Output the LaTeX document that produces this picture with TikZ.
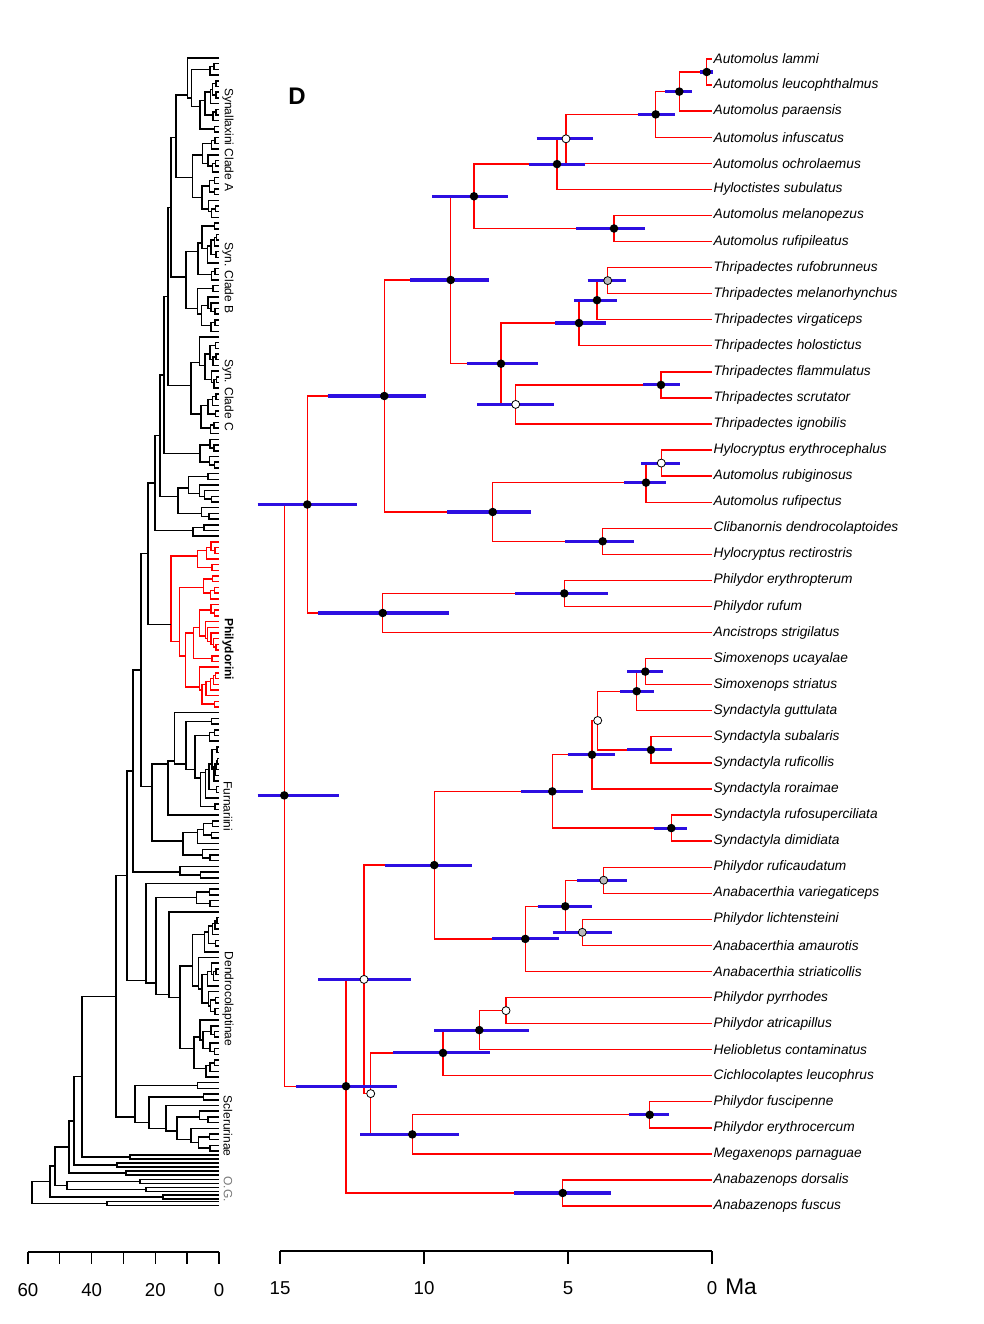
\documentclass[tikz,border=0pt]{standalone}
\usepackage{fontspec}
\setmainfont{Liberation Sans}
\usetikzlibrary{calc}

\definecolor{hpdblue}{RGB}{45,15,225}
\definecolor{oggray}{RGB}{120,120,120}

% random subtree of the big tree: #1 = x of root, #2..#3 = tips, #4 = style
\newcommand\subtree[4]{%
  \begingroup
  \pgfmathtruncatemacro\nt{#3-#2}%
  \ifnum\nt>0
    \pgfmathtruncatemacro\ks{#2+floor(rnd*\nt)}%
    \pgfmathtruncatemacro\kr{\ks+1}%
    \pgfmathsetmacro\ya{58+(#2+\ks-2)*2.8465}%
    \pgfmathsetmacro\yb{58+(\kr+#3-2)*2.8465}%
    \pgfmathsetmacro\xa{219-(219-#1)*ln(\ks-#2+1)/ln(\nt+1)*(0.75+0.2*rnd)}%
    \pgfmathsetmacro\xb{219-(219-#1)*ln(#3-\kr+1)/ln(\nt+1)*(0.75+0.2*rnd)}%
    \draw[#4] (\xa,\ya) -| (#1,\yb) -- (\xb,\yb);
    \edef\next{\noexpand\subtree{\xa}{#2}{\ks}{#4}}\next
    \edef\next{\noexpand\subtree{\xb}{\kr}{#3}{#4}}\next
  \fi
  \endgroup}
% clade of the big tree: name, x of root, first tip, last tip, style
\newcommand\clade[5]{%
  \coordinate (#1) at (#2,{58+(#3+#4-2)*2.8465});
  \subtree{#2}{#3}{#4}{#5}}

% internal nodes of the dated tree: number/x/y/bar from/bar to/dot style
\def\nodelist{1/706.7/72.0/700/713/blk, 2/679.3/91.6/665/692/blk,
  3/655.7/114.4/638/675/blk, 4/566/138.8/536.7/592.7/wht,
  5/557/164.1/529/585/blk, 6/614/228.5/576/645/blk,
  7/474/196.3/432/508/blk, 8/607.7/280.6/587.7/625.7/gry,
  9/597/300.2/574/617/blk, 10/579/323.0/555/605.7/blk,
  11/661/384.9/643/679.7/blk, 12/515.7/404.4/477/553.7/wht,
  13/501/363.7/466.7/537.7/blk, 14/450.7/280.0/410/489/blk,
  15/661.3/463.1/641/679.7/wht, 16/646/482.6/624/665.7/blk,
  17/602.7/541.3/565/634.3/blk, 18/492.7/512.0/447/531/blk,
  19/384.3/396.0/327.7/426.3/blk, 20/564.3/593.4/515.3/608.3/blk,
  21/382.7/613.0/318/449/blk, 22/307.3/504.5/257.7/356.7/blk,
  23/645.3/671.6/627.3/662.7/blk, 24/636.7/691.2/620/654.3/blk,
  25/651/749.9/627.3/672/blk, 26/597.7/720.5/597.7/597.7/wht,
  27/592/754.7/568.3/614.7/blk, 28/671.3/828.1/653.7/686.7/blk,
  29/552.3/791.4/520.7/583.3/blk, 30/603.7/880.2/577/627/gry,
  31/582.3/932.3/552.7/611.7/gry, 32/565.3/906.3/537.7/591.7/blk,
  33/525.3/938.9/492/559.3/blk, 34/434.3/865.1/384.7/472/blk,
  35/506/1010.6/506/506/wht, 36/479.3/1030.1/434.3/529/blk,
  37/443/1052.9/393/490/blk, 38/649.7/1114.8/628.7/669/blk,
  39/412.3/1134.4/360.3/459.3/blk, 40/370.7/1093.6/370.7/370.7/wht,
  41/364/979.4/318.3/410.7/wht, 42/562.7/1193.0/514.3/610.7/blk,
  43/346/1086.2/296.3/397/blk, 44/284.3/795.4/257.7/339/blk}

\begin{document}
\begin{tikzpicture}[x=0.75pt, y=-0.75pt,
  br/.style={red, line width=1pt},
  hpd/.style={hpdblue, line width=2.3pt},
  blk/.style={circle, fill=black, inner sep=0pt, minimum size=6.4pt},
  wht/.style={circle, draw=black, fill=white, line width=0.6pt, inner sep=0pt, minimum size=6pt},
  gry/.style={wht, fill=gray!55},
  lab/.style={anchor=west, inner sep=1pt, font=\fontsize{10.3}{12}\selectfont\itshape},
  ltree/.style={black, line width=1.1pt},
  lred/.style={red, line width=1.1pt},
  cladelab/.style={rotate=-90, inner sep=0pt, font=\fontsize{9}{10}\selectfont},
  ax/.style={black, line width=1pt},
  axlab/.style={inner sep=0pt, font=\fontsize{14}{16}\selectfont}]
\useasboundingbox (0,0) rectangle (984,1324);
\pgfmathsetseed{5}

% ---- whole family (left) ----
\clade{cA}{176}{1}{29}{ltree}
\clade{cB}{186}{30}{49}{ltree}
\clade{cC}{191}{50}{67}{ltree}
\clade{cD1}{200}{68}{73}{ltree}
\clade{cD2}{178}{74}{82}{ltree}
\clade{cD3}{193}{83}{85}{ltree}
\clade{cPh}{171}{86}{115}{lred}
\clade{cFu}{152}{116}{142}{ltree}
\clade{cSm}{180}{143}{145}{ltree}
\clade{cDe}{146}{146}{180}{ltree}
\clade{cSc}{135}{181}{193}{ltree}

% outgroup pairs
\foreach \x/\y [count=\k] in {130/1157, 117/1165, 126/1173, 140/1181.5, 146/1189.5, 163/1197, 107/1203.5} {
  \coordinate (g\k) at (\x,\y);
  \draw[ltree] (219,{\y-1.8}) -| (\x,{\y+1.8}) -- (219,{\y+1.8});
}

\coordinate (AB) at (171,207.45);
\coordinate (ABC) at (168,296.4);
\coordinate (S4) at (164,375.05);
\coordinate (S5) at (160,435.7);
\coordinate (Syn) at (155,483.1);
\coordinate (P1) at (148,553.75);
\coordinate (P2) at (141,670.2);
\coordinate (P4) at (133,771.15);
\coordinate (P5) at (127,875.7);
\coordinate (P6) at (116,996.3);
\coordinate (P7) at (82,1076.65);
\coordinate (P8) at (74,1120.8);
\coordinate (P9) at (69,1146.9);
\coordinate (Q) at (67,1185.5);
\coordinate (P10) at (55,1166.2);
\coordinate (P11) at (50,1181.6);
\coordinate (P12) at (32,1192.55);

\foreach \p/\c in {AB/cA, AB/cB, ABC/AB, ABC/cC, S4/ABC, S4/cD1, S5/S4, S5/cD2,
  Syn/S5, Syn/cD3, P1/Syn, P1/cPh, P2/P1, P2/cFu, P4/P2, P4/cSm, P5/P4, P5/cDe,
  P6/P5, P6/cSc, P7/P6, P7/g1, P8/P7, P8/g2, P9/P8, P9/g3, Q/g4, Q/g5,
  P10/P9, P10/Q, P11/P10, P11/g6, P12/P11, P12/g7}
  \draw[ltree] (\p) |- (\c);

\node[cladelab] (lA) at (228,140) {Synallaxini Clade A};
\node[cladelab] (lB) at (228,278) {Syn. Clade B};
\node[cladelab] (lC) at (228,395) {Syn. Clade C};
\node[cladelab, font=\fontsize{9}{10}\selectfont\bfseries] (lPh) at (228,649) {Philydorini};
\node[cladelab] (lFu) at (228,806) {Furnariini};
\node[cladelab] (lDe) at (228,999) {Dendrocolaptinae};
\node[cladelab] (lSc) at (228,1126) {Sclerurinae};
\node[cladelab, oggray] (lOG) at (228,1189) {O.G.};

% scale, 60 Ma
\draw[ax] (28,1252) -- (219,1252);
\foreach \k in {0,...,6}
  \draw[ax] ({28+\k*31.83},1252) -- ({28+\k*31.83},1264);
\foreach \v/\x in {60/28, 40/91.7, 20/155.3, 0/219}
  \node[axlab] (s\v) at (\x,1290) {\v};

% ---- dated tree (right) ----
\node[font=\fontsize{18}{20}\selectfont\bfseries] (panel) at (297,96) {D};

\foreach \nm [count=\i] in {Automolus lammi, Automolus leucophthalmus,
  Automolus paraensis, Automolus infuscatus, Automolus ochrolaemus,
  Hyloctistes subulatus, Automolus melanopezus, Automolus rufipileatus,
  Thripadectes rufobrunneus, Thripadectes melanorhynchus, Thripadectes virgaticeps,
  Thripadectes holostictus, Thripadectes flammulatus, Thripadectes scrutator,
  Thripadectes ignobilis, Hylocryptus erythrocephalus, Automolus rubiginosus,
  Automolus rufipectus, Clibanornis dendrocolaptoides, Hylocryptus rectirostris,
  Philydor erythropterum, Philydor rufum, Ancistrops strigilatus,
  Simoxenops ucayalae, Simoxenops striatus, Syndactyla guttulata,
  Syndactyla subalaris, Syndactyla ruficollis, Syndactyla roraimae,
  Syndactyla rufosuperciliata, Syndactyla dimidiata, Philydor ruficaudatum,
  Anabacerthia variegaticeps, Philydor lichtensteini, Anabacerthia amaurotis,
  Anabacerthia striaticollis, Philydor pyrrhodes, Philydor atricapillus,
  Heliobletus contaminatus, Cichlocolaptes leucophrus, Philydor fuscipenne,
  Philydor erythrocercum, Megaxenops parnaguae, Anabazenops dorsalis,
  Anabazenops fuscus}
  \node[lab] (t\i) at (712,{59+(\i-1)*26.07}) {\nm};

\foreach \n/\x/\y/\a/\b/\k in \nodelist
  \coordinate (n\n) at (\x,\y);

\foreach \p/\c in {n1/t1.west, n1/t2.west, n2/n1, n2/t3.west, n3/n2, n3/t4.west,
  n4/n3, n4/t5.west, n5/n4, n5/t6.west, n6/t7.west, n6/t8.west, n7/n5, n7/n6,
  n8/t9.west, n8/t10.west, n9/n8, n9/t11.west, n10/n9, n10/t12.west,
  n11/t13.west, n11/t14.west, n12/n11, n12/t15.west, n13/n10, n13/n12,
  n14/n7, n14/n13, n15/t16.west, n15/t17.west, n16/n15, n16/t18.west,
  n17/t19.west, n17/t20.west, n18/n16, n18/n17, n19/n14, n19/n18,
  n20/t21.west, n20/t22.west, n21/n20, n21/t23.west, n22/n19, n22/n21,
  n23/t24.west, n23/t25.west, n24/n23, n24/t26.west, n25/t27.west, n25/t28.west,
  n26/n24, n26/n25, n27/n26, n27/t29.west, n28/t30.west, n28/t31.west,
  n29/n27, n29/n28, n30/t32.west, n30/t33.west, n31/t34.west, n31/t35.west,
  n32/n30, n32/n31, n33/n32, n33/t36.west, n34/n29, n34/n33,
  n35/t37.west, n35/t38.west, n36/n35, n36/t39.west, n37/n36, n37/t40.west,
  n38/t41.west, n38/t42.west, n39/n38, n39/t43.west, n40/n37, n40/n39,
  n41/n34, n41/n40, n42/t44.west, n42/t45.west, n43/n41, n43/n42,
  n44/n22, n44/n43}
  \draw[br] (\p) |- (\c);

% 95% HPD bars, then node dots
\foreach \n/\x/\y/\a/\b/\k in \nodelist
  \draw[hpd] (\a,\y) -- (\b,\y);
\foreach \n/\x/\y/\a/\b/\k in \nodelist
  \node[\k] (d\n) at (n\n) {};

% scale, 15 Ma
\draw[ax] (280,1251) -- (712,1251);
\foreach \v/\x in {15/280, 10/424, 5/568, 0/712} {
  \draw[ax] (\x,1251) -- (\x,1264);
  \node[axlab] (m\v) at (\x,1288) {\v};
}
\node[axlab, anchor=west, font=\fontsize{17}{19}\selectfont] (ma) at (725,1287) {Ma};
\end{tikzpicture}
\end{document}
